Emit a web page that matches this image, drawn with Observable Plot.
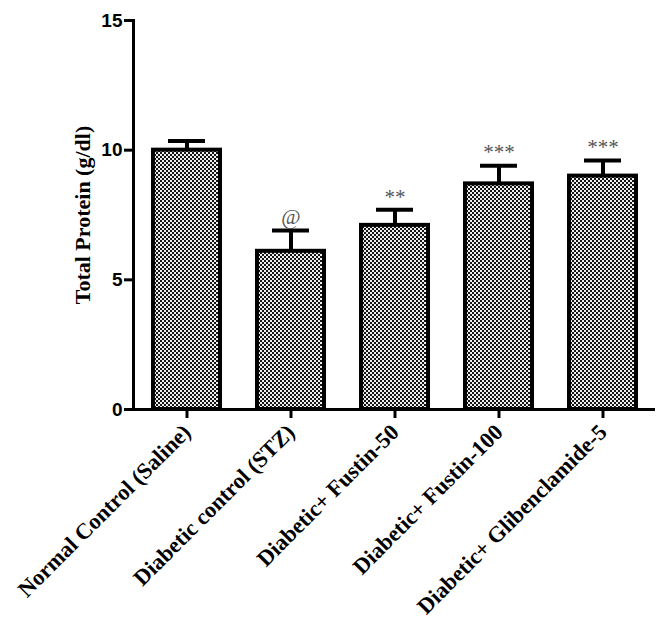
<!DOCTYPE html>
<html>
<head>
<meta charset="utf-8">
<script src="https://cdn.jsdelivr.net/npm/d3@7"></script>
<script src="https://cdn.jsdelivr.net/npm/@observablehq/plot@0.6"></script>
<style>
  html, body { margin: 0; padding: 0; background: #fff; }
</style>
</head>
<body>
<div id="chart"></div>
<script>
const categories = [
  "Normal Control (Saline)",
  "Diabetic control (STZ)",
  "Diabetic+ Fustin-50",
  "Diabetic+ Fustin-100",
  "Diabetic+ Glibenclamide-5"
];
const means = [10.0, 6.1, 7.1, 8.7, 9.0];
const sems = [0.35, 0.8, 0.6, 0.7, 0.6];
const marks = ["", "@", "**", "***", "***"];
const yTicks = [0, 5, 10, 15];

const data = categories.map((c, i) => ({cat: c, mean: means[i], top: means[i] + sems[i], sig: marks[i]}));

const serif = "'Liberation Serif', 'Times New Roman', serif";
const sans = "'Liberation Sans', Arial, sans-serif";

const chart = Plot.plot({
  width: 669,
  height: 627,
  marginLeft: 133,
  marginRight: 14,
  marginTop: 20,
  marginBottom: 218,
  style: {background: "#fff", color: "#000"},
  x: {type: "band", domain: categories, paddingInner: 0.36, paddingOuter: 0.18, label: null},
  y: {domain: [0, 15], label: null},
  marks: [
    Plot.barY(data, {x: "cat", y: "mean", fill: "url(#checker)", stroke: "#000", strokeWidth: 4}),
    Plot.ruleX(data, {x: "cat", y1: "mean", y2: "top", stroke: "#000", strokeWidth: 4}),
    Plot.tickY(data, {x: "cat", y: "top", stroke: "#000", strokeWidth: 4, insetLeft: 15, insetRight: 15}),
    Plot.text(data, {x: "cat", y: "top", text: "sig", dy: -13, fill: "#555", fontSize: 21, fontFamily: serif, ariaLabel: "sig"}),
    Plot.ruleY([0], {stroke: "#000", strokeWidth: 3}),
    Plot.frame({anchor: "left", stroke: "#000", strokeWidth: 3}),
    Plot.axisY({ticks: yTicks, tickSize: 9, tickPadding: 2, strokeWidth: 3, fontSize: 19, fontWeight: "bold", fontFamily: sans, label: null}),
    Plot.axisX({tickSize: 9, tickPadding: 10, strokeWidth: 3, tickRotate: -45, fontSize: 22.5, fontWeight: "bold", fontFamily: serif, label: null}),
    Plot.text(["Total Protein (g/dl)"], {frameAnchor: "left", textAnchor: "middle", dx: -51, rotate: -90, fontSize: 22, fontWeight: "bold", fontFamily: serif, fill: "#000", ariaLabel: "ylabel"})
  ]
});

const svg = d3.select(chart);
const defs = svg.insert("defs", ":first-child");
const pat = defs.append("pattern").attr("id", "checker").attr("patternUnits", "userSpaceOnUse")
  .attr("width", 4).attr("height", 4);
pat.append("rect").attr("width", 4).attr("height", 4).attr("fill", "#eeeeee");
pat.append("rect").attr("x", 0).attr("y", 0).attr("width", 2).attr("height", 2).attr("fill", "#151515");
pat.append("rect").attr("x", 2).attr("y", 2).attr("width", 2).attr("height", 2).attr("fill", "#151515");
svg.selectAll('g[aria-label="sig"] text').attr("letter-spacing", 3);
svg.selectAll('g[aria-label="ylabel"] text').attr("letter-spacing", 1.5);

document.getElementById("chart").appendChild(chart);
</script>
</body>
</html>
